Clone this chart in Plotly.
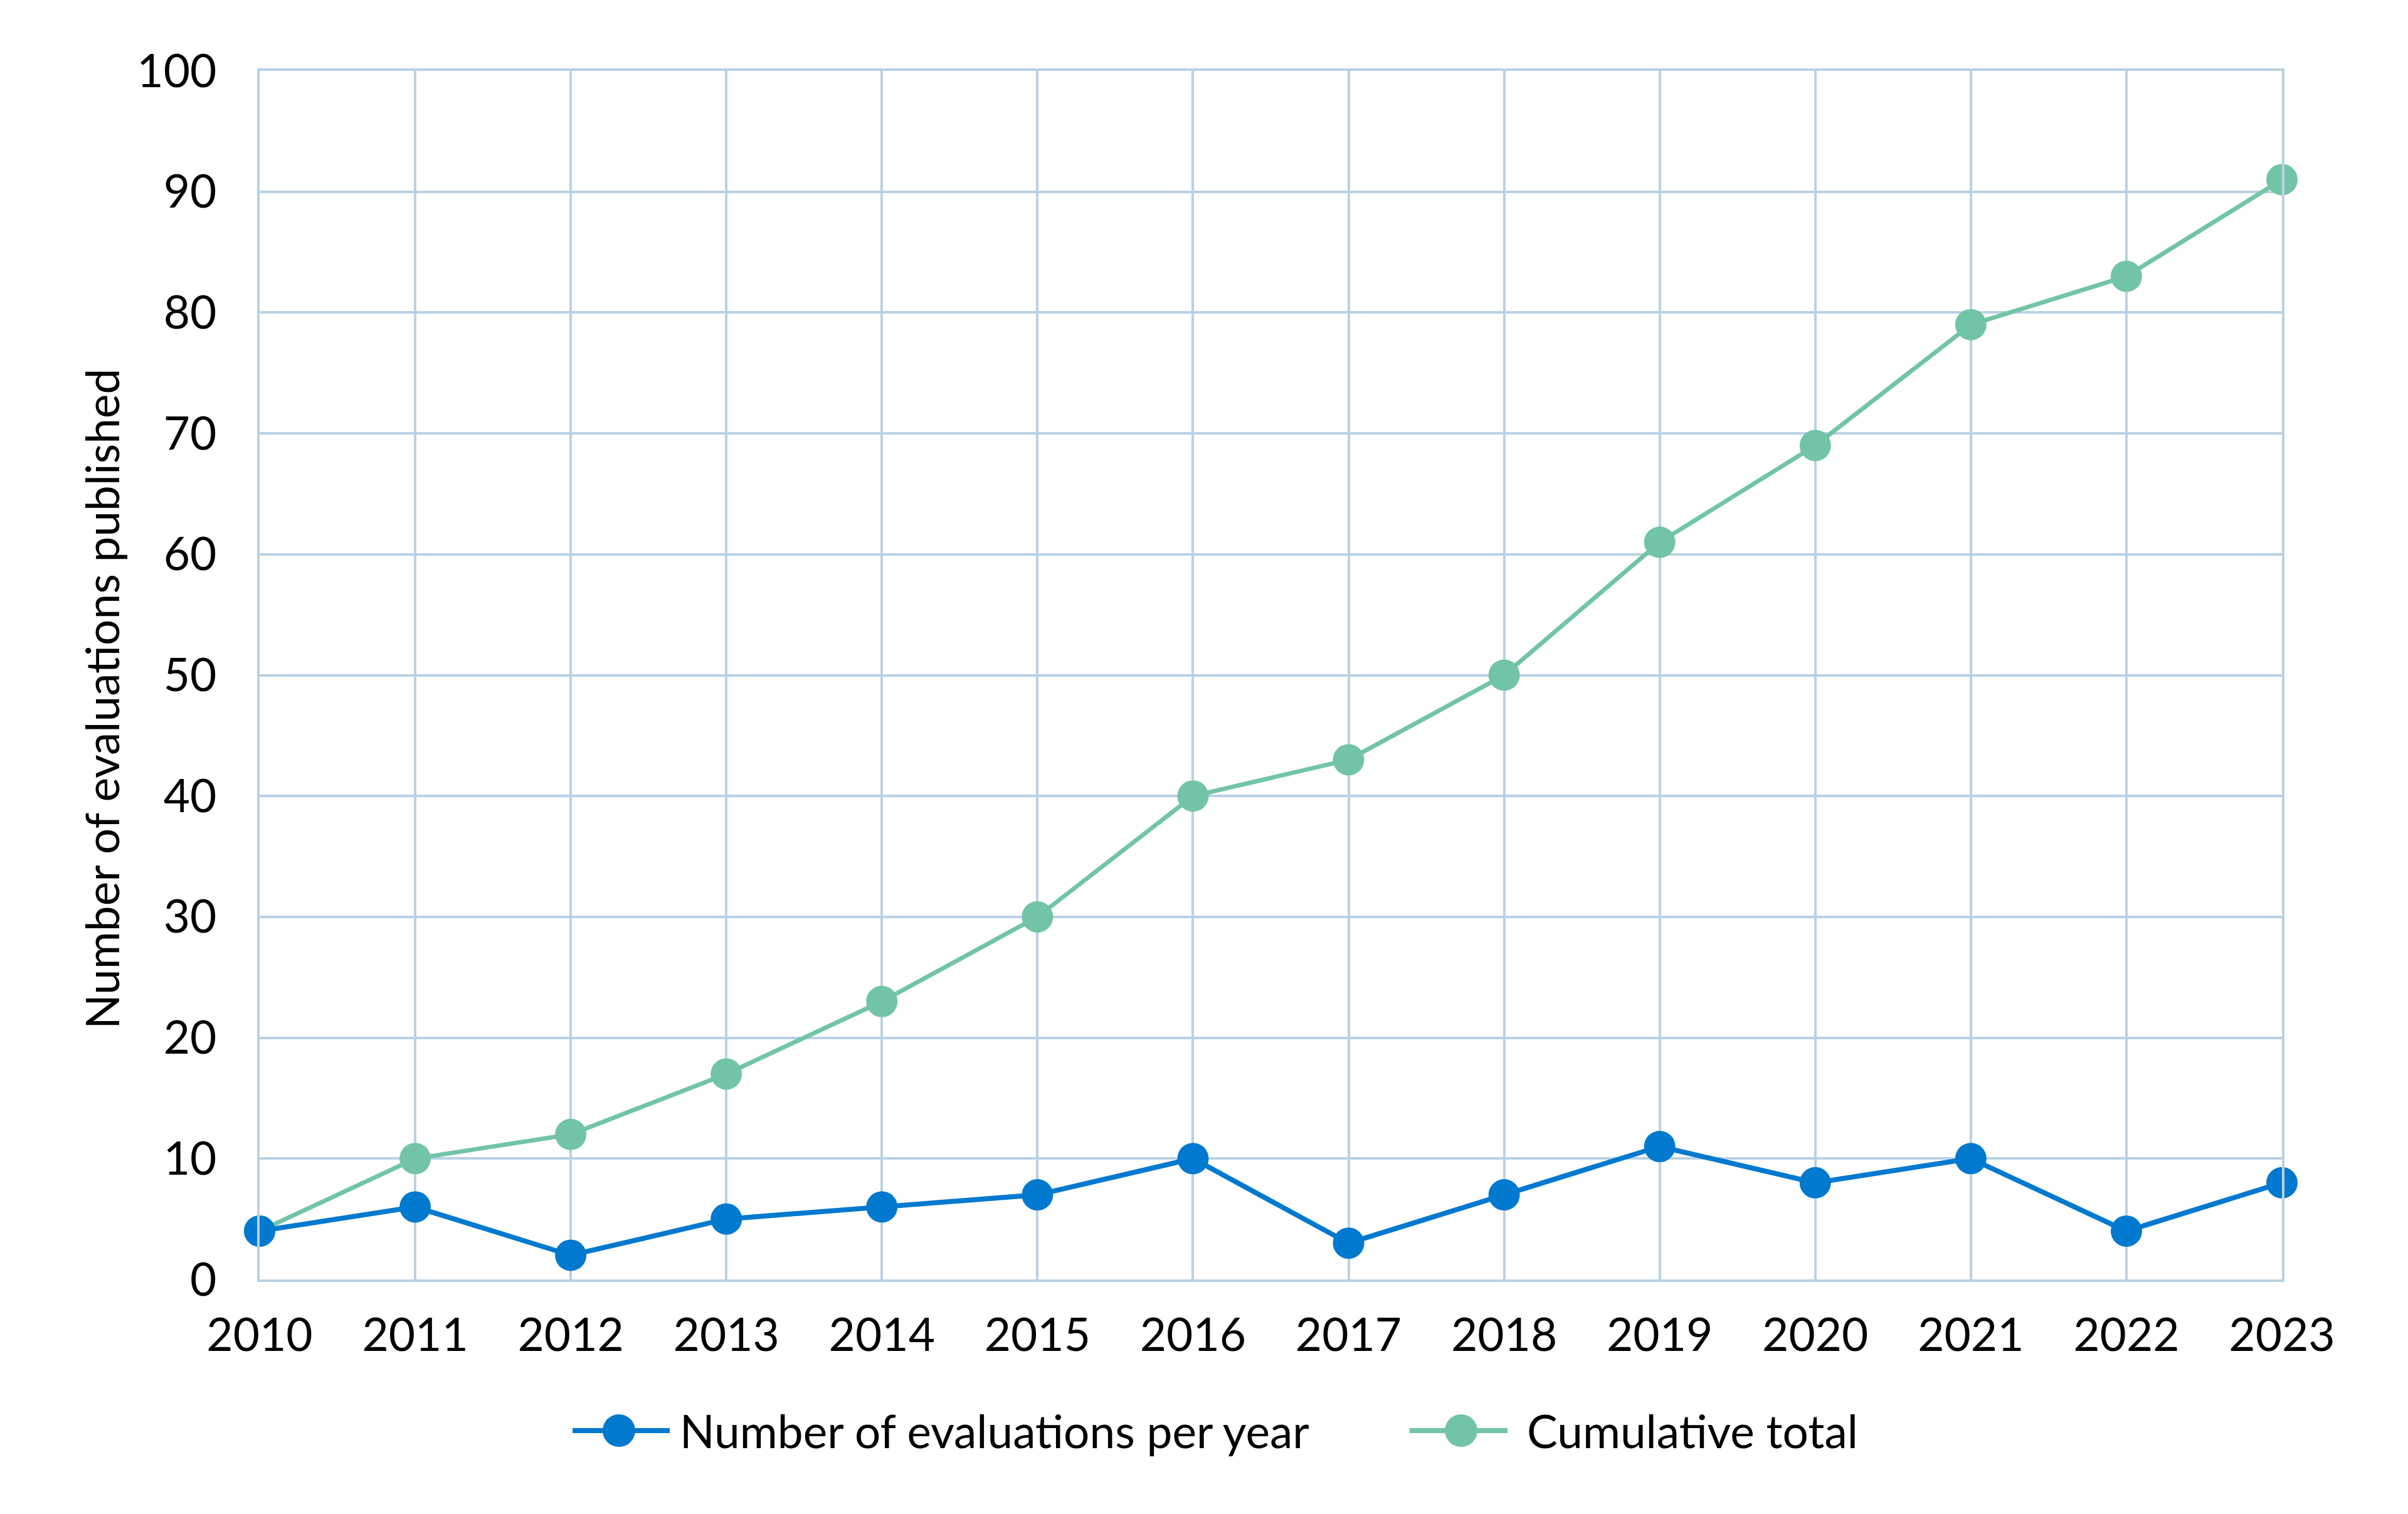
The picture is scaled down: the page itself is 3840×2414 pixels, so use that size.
import plotly.graph_objects as go

years = [2010, 2011, 2012, 2013, 2014, 2015, 2016, 2017, 2018, 2019, 2020, 2021, 2022, 2023]
per_year = [4, 6, 2, 5, 6, 7, 10, 3, 7, 11, 8, 10, 4, 8]
cumulative = [4, 10, 12, 17, 23, 30, 40, 43, 50, 61, 69, 79, 83, 91]
y_ticks = [0, 10, 20, 30, 40, 50, 60, 70, 80, 90, 100]
series_names = ["Number of evaluations per year", "Cumulative total"]

BLUE = "#0079CF"
GREEN = "#72C4A7"
GRID = "#B9D1E5"
FONT = "Lato, 'Noto Sans', sans-serif"
FS = 73

# browser body margin offset (8px) compensated
OFF = 8
PLOT_L, PLOT_T, PW, PH = 414, 113, 3225, 1927
W, H = 3840 - 2 * OFF, 2414 - 2 * OFF
ML, MT = PLOT_L - OFF, PLOT_T - OFF
MR, MB = W - ML - PW, H - MT - PH

fig = go.Figure()
fig.add_trace(go.Scatter(x=years, y=cumulative, mode="lines+markers", name=series_names[1],
                         line=dict(color=GREEN, width=7), marker=dict(color=GREEN, size=50),
                         cliponaxis=False, showlegend=False))
fig.add_trace(go.Scatter(x=years, y=per_year, mode="lines+markers", name=series_names[0],
                         line=dict(color=BLUE, width=8), marker=dict(color=BLUE, size=50),
                         cliponaxis=False, showlegend=False))

def px_x(p):
    return (p - PLOT_L) / PW

def px_y(p):
    return (PLOT_T + PH - p) / PH

# custom legend matching reference
legend_items = [
    (series_names[0], BLUE, 913, 1068, 987, 1082),
    (series_names[1], GREEN, 2248, 2404, 2330, 2433),
]
ly = px_y(2281)
for name, col, x0, x1, xm, xt in legend_items:
    fig.add_shape(type="line", xref="paper", yref="paper",
                  x0=px_x(x0), x1=px_x(x1), y0=ly, y1=ly,
                  line=dict(color=col, width=8))
    fig.add_shape(type="circle", xref="paper", yref="paper",
                  xsizemode="pixel", ysizemode="pixel",
                  xanchor=px_x(xm), yanchor=ly, x0=-26, x1=26, y0=-26, y1=26,
                  fillcolor=col, line=dict(color=col, width=0))
    fig.add_annotation(text=name, xref="paper", yref="paper", x=px_x(xt), y=ly,
                       xanchor="left", yanchor="middle", showarrow=False,
                       font=dict(family=FONT, size=FS, color="#000000"))

fig.add_annotation(text="Number of evaluations published", xref="paper", yref="paper",
                   x=px_x(162), y=px_y(1114), textangle=-90, xanchor="center", yanchor="middle",
                   showarrow=False, font=dict(family=FONT, size=FS, color="#000000"))

fig.update_layout(
    width=W, height=H,
    margin=dict(l=ML, r=MR, t=MT, b=MB),
    paper_bgcolor="white", plot_bgcolor="white",
    font=dict(family=FONT, size=FS, color="#000000"),
    showlegend=False,
)
fig.update_xaxes(range=[2010, 2023], tickmode="array", tickvals=years,
                 ticktext=[str(y) for y in years],
                 showgrid=True, gridcolor=GRID, gridwidth=4,
                 showline=True, linecolor=GRID, linewidth=4, mirror=True,
                 zeroline=False, ticks="", ticklabelstandoff=22,
                 tickfont=dict(family=FONT, size=FS, color="#000000"))
fig.update_yaxes(range=[0, 100], tickmode="array", tickvals=y_ticks,
                 showgrid=True, gridcolor=GRID, gridwidth=4,
                 showline=True, linecolor=GRID, linewidth=4, mirror=True,
                 zeroline=False, ticks="", ticklabelstandoff=50,
                 tickfont=dict(family=FONT, size=FS, color="#000000"))

fig.write_html("out.html")
